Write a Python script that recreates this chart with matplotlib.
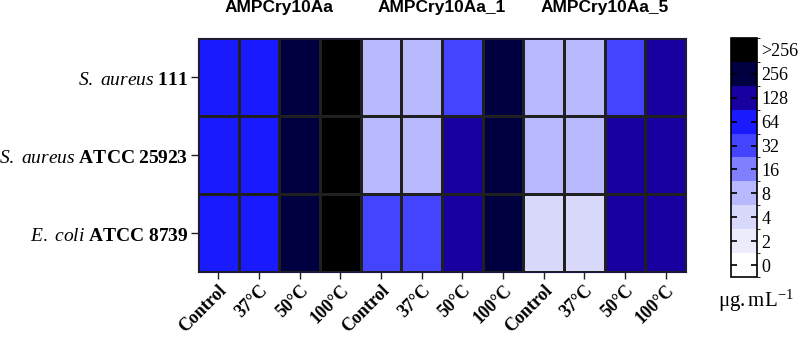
import numpy as np
import matplotlib
matplotlib.use("Agg")
import matplotlib.pyplot as plt
from matplotlib.colors import ListedColormap, BoundaryNorm

plt.rcParams['mathtext.fontset'] = 'custom'
plt.rcParams['mathtext.rm'] = 'Liberation Serif'
plt.rcParams['mathtext.it'] = 'Liberation Serif:italic'
plt.rcParams['mathtext.bf'] = 'Liberation Serif:bold'

# MIC levels shown in the colour key (">256" stored as 512)
levels = [0, 2, 4, 8, 16, 32, 64, 128, 256, 512]
level_labels = ['0', '2', '4', '8', '16', '32', '64', '128', '256', '>256']
level_colors = ['#ffffff', '#ececfc', '#d8d8fa', '#b8b8fc', '#8080ff',
                '#4444ff', '#1a1aff', '#1800a0', '#000040', '#000000']

peptides = ['AMPCry10Aa', 'AMPCry10Aa_1', 'AMPCry10Aa_5']
treatments = ['Control', '37°C', '50°C', '100°C']
strains = [r'$\mathit{S.\ aureus}\ \mathbf{111}$',
           r'$\mathit{S.\ aureus}\ \mathbf{ATCC\ 25923}$',
           r'$\mathit{E.\ coli}\ \mathbf{ATCC\ 8739}$']

mic_s_aureus_111 = [64, 64, 256, 512, 8, 8, 32, 256, 8, 8, 32, 128]
mic_s_aureus_25923 = [64, 64, 256, 512, 8, 8, 128, 256, 8, 8, 128, 128]
mic_e_coli_8739 = [64, 64, 256, 512, 32, 32, 128, 256, 4, 4, 128, 128]

mic = np.array([mic_s_aureus_111, mic_s_aureus_25923, mic_e_coli_8739])
idx = np.vectorize(levels.index)(mic)

cmap = ListedColormap(level_colors)
norm = BoundaryNorm(np.arange(-0.5, len(levels)), cmap.N)

fig = plt.figure(figsize=(8, 3.42), dpi=100)
ax = fig.add_axes([0.2475, 0.2047, 0.61, 0.684])
cax = fig.add_axes([0.914, 0.19, 0.0325, 0.699])

mesh = ax.pcolormesh(idx, cmap=cmap, norm=norm, edgecolors='#202020', linewidth=0.8)
ax.set_xlim(0, idx.shape[1])
ax.set_ylim(idx.shape[0], 0)

xlabels = treatments * len(peptides)
ax.set_xticks(np.arange(len(xlabels)) + 0.5)
ax.set_xticklabels(xlabels, rotation=45, ha='right', rotation_mode='anchor',
                   family='Liberation Serif', fontweight='bold', fontsize=13)
ax.set_yticks(np.arange(len(strains)) + 0.5)
ax.set_yticklabels(strains, fontsize=14)
ax.tick_params(length=5, width=1, color='#222222', pad=2)
for s in ax.spines.values():
    s.set_color('#1a1a40')

for i, name in enumerate(peptides):
    ax.text(i * 4 + 2, -0.3, name, ha='center', va='bottom', fontsize=12.5,
            fontweight='bold', family='Liberation Sans',
            transform=ax.transData)

cb = fig.colorbar(mesh, cax=cax, ticks=np.arange(len(levels)))
cb.set_ticklabels(level_labels)
cb.outline.set_linewidth(1.2)
cax.tick_params(direction='in', left=True, right=True, length=4, width=1.2,
                labelsize=13, pad=3)
for t in cax.get_yticklabels():
    t.set_family('Liberation Serif')

fig.text(0.945, 0.12, r'$\mathrm{\mu g.mL^{-1}}$', ha='center', va='center', fontsize=15)

fig.savefig('out.png', dpi=100)
